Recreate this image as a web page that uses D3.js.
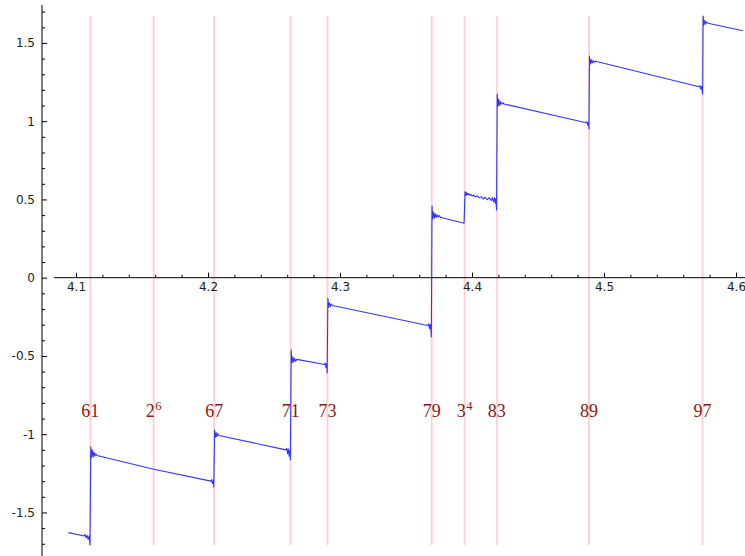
<!DOCTYPE html>
<html>
<head>
<meta charset="utf-8">
<script src="https://cdn.jsdelivr.net/npm/d3@7"></script>
<style>
  body { margin: 0; background: #fff; }
  svg text { font-family: "DejaVu Sans", sans-serif; }
</style>
</head>
<body>
<svg id="chart" width="745" height="556"></svg>
<script>
// Prime powers marked by vertical guides (x axis is log x)
const primePowers = [61, 64, 67, 71, 73, 79, 81, 83, 89, 97];
// Label text: [base, exponent]
const primeLabels = [["61"], ["2", "6"], ["67"], ["71"], ["73"], ["79"], ["3", "4"], ["83"], ["89"], ["97"]];
const labelLevel = -0.85;

const xMajorTicks = [4.1, 4.2, 4.3, 4.4, 4.5, 4.6];
const yMajorTicks = [-1.5, -1, -0.5, 0, 0.5, 1, 1.5];
const yTickLabels = ["-1.5", "-1", "-0.5", "0", "0.5", "1", "1.5"];

// Sampled curve [log x, value], split at each jump
const seg60 = [[4.0943,-1.629],[4.1060,-1.650],[4.1068,-1.640],[4.1076,-1.662],[4.1084,-1.646],[4.1092,-1.672],[4.1100,-1.650],[4.1106,-1.708]];
const seg61 = [[4.1112,-1.080],[4.1118,-1.150],[4.1124,-1.100],[4.1130,-1.145],[4.1136,-1.115],[4.1143,-1.140],[4.1150,-1.125],[4.1158,-1.136],
               [4.1589,-1.224],[4.2022,-1.300],[4.2028,-1.290],[4.2034,-1.315],[4.2040,-1.295],[4.2044,-1.337]];
const seg67 = [[4.2050,-0.973],[4.2056,-1.020],[4.2062,-0.990],[4.2068,-1.015],[4.2075,-0.998],[4.2083,-1.008],
               [4.2590,-1.100],[4.2597,-1.090],[4.2603,-1.125],[4.2609,-1.095],[4.2615,-1.140],[4.2620,-1.105],[4.2624,-1.165]];
const seg71 = [[4.2630,-0.462],[4.2636,-0.545],[4.2642,-0.505],[4.2648,-0.540],[4.2655,-0.515],[4.2663,-0.535],[4.2672,-0.522],
               [4.2882,-0.555],[4.2888,-0.545],[4.2894,-0.575],[4.2899,-0.550],[4.2903,-0.609]];
const seg73 = [[4.2908,-0.132],[4.2914,-0.190],[4.2920,-0.160],[4.2927,-0.185],[4.2935,-0.168],[4.2943,-0.178],
               [4.3665,-0.305],[4.3672,-0.295],[4.3678,-0.325],[4.3684,-0.300],[4.3689,-0.345],[4.3692,-0.379]];
const seg79 = [[4.3697,0.458],[4.3703,0.375],[4.3709,0.420],[4.3715,0.380],[4.3721,0.410],[4.3728,0.385],[4.3735,0.402],
               [4.3743,0.388],[4.3751,0.398],[4.3760,0.386],[4.3940,0.348]];
const seg81 = [[4.3947,0.550],[4.3951,0.525],[4.3955,0.545],[4.3959,0.528],[4.3964,0.540],[4.3969,0.530],[4.3975,0.537],
               [4.3982,0.526],[4.3990,0.533],[4.4000,0.522],[4.4012,0.528],[4.4025,0.516],[4.4040,0.523],[4.4055,0.510],
               [4.4070,0.518],[4.4085,0.503],[4.4100,0.514],[4.4115,0.498],[4.4130,0.512],[4.4145,0.493],[4.4155,0.512],
               [4.4163,0.485],[4.4170,0.510],[4.4176,0.475],[4.4181,0.505],[4.4186,0.433]];
const seg83 = [[4.4191,1.174],[4.4197,1.095],[4.4203,1.140],[4.4209,1.100],[4.4216,1.125],[4.4224,1.108],[4.4233,1.118],[4.4243,1.110],
               [4.4865,0.990],[4.4871,0.998],[4.4877,0.975],[4.4883,0.990],[4.4886,0.950]];
const seg89 = [[4.4890,1.417],[4.4896,1.365],[4.4902,1.395],[4.4909,1.370],[4.4917,1.388],[4.4926,1.376],[4.4936,1.383],
               [4.5720,1.220],[4.5727,1.228],[4.5733,1.205],[4.5739,1.222],[4.5744,1.190],[4.5747,1.172]];
const seg97 = [[4.5751,1.672],[4.5757,1.615],[4.5763,1.645],[4.5770,1.620],[4.5778,1.635],[4.5787,1.626],[4.6052,1.578]];

const curve = [].concat(seg60, seg61, seg67, seg71, seg73, seg79, seg81, seg83, seg89, seg97);

const svg = d3.select("#chart");
const x = d3.scaleLinear().domain([4.1, 4.6]).range([76, 736]);
const y = d3.scaleLinear().domain([-1.5, 1.5]).range([512.45, 42.95]);

const yMin = d3.min(curve, d => d[1]);
const yMax = d3.max(curve, d => d[1]);

// vertical guides at log of each prime power
svg.append("g").selectAll("line").data(primePowers).join("line")
  .attr("x1", d => x(Math.log(d))).attr("x2", d => x(Math.log(d)))
  .attr("y1", y(yMin)).attr("y2", y(yMax))
  .attr("stroke", "#ffd3d3").attr("stroke-width", 2);

// labels
const lab = svg.append("g").selectAll("text").data(primePowers).join("text")
  .attr("x", d => x(Math.log(d)))
  .attr("y", y(labelLevel))
  .attr("dy", "0.35em")
  .attr("text-anchor", "middle")
  .style("font-family", "'Liberation Serif', 'DejaVu Serif', serif")
  .style("font-size", "18px")
  .attr("fill", "#8e1616");
lab.each(function(d, i) {
  const t = d3.select(this);
  const parts = primeLabels[i];
  t.append("tspan").text(parts[0]);
  if (parts.length > 1) {
    t.append("tspan").attr("dy", -7).attr("dx", 0.5).style("font-size", "12.5px").text(parts[1]);
  }
});

// curve
svg.append("path")
  .datum(curve)
  .attr("fill", "none")
  .attr("stroke", "#3535ff")
  .attr("stroke-width", 1.1)
  .attr("stroke-linejoin", "round")
  .attr("d", d3.line().x(d => x(d[0])).y(d => y(d[1])));

// x axis along y = 0
const xAxisG = svg.append("g").attr("transform", `translate(0,${y(0)})`);
xAxisG.append("line").attr("x1", 54).attr("x2", 745).attr("stroke", "#000").attr("stroke-width", 1);
const xMinor = d3.range(4.10, 4.6101, 0.02).filter(v => !xMajorTicks.some(m => Math.abs(m - v) < 1e-6));
xAxisG.append("g").call(d3.axisBottom(x).tickValues(xMinor).tickSize(-3).tickFormat(""))
  .call(g => g.select(".domain").remove());
xAxisG.append("g").call(d3.axisBottom(x).tickValues(xMajorTicks).tickSize(-5).tickPadding(5).tickFormat(d3.format(".1f")))
  .call(g => g.select(".domain").remove())
  .call(g => g.selectAll("text").style("font-size", "12px").attr("fill", "#222"));

// y axis at left edge
const yAxisG = svg.append("g").attr("transform", "translate(42,0)");
yAxisG.append("line").attr("y1", 5).attr("y2", 556).attr("stroke", "#000").attr("stroke-width", 1);
const yMinor = d3.range(-1.7, 1.7001, 0.1).filter(v => !yMajorTicks.some(m => Math.abs(m - v) < 1e-6));
yAxisG.append("g").call(d3.axisLeft(y).tickValues(yMinor).tickSize(-3).tickFormat(""))
  .call(g => g.select(".domain").remove());
yAxisG.append("g").call(d3.axisLeft(y).tickValues(yMajorTicks).tickSize(-5).tickPadding(7)
    .tickFormat((d, i) => yTickLabels[i]))
  .call(g => g.select(".domain").remove())
  .call(g => g.selectAll("text").style("font-size", "12px").attr("fill", "#222"));
</script>
</body>
</html>
